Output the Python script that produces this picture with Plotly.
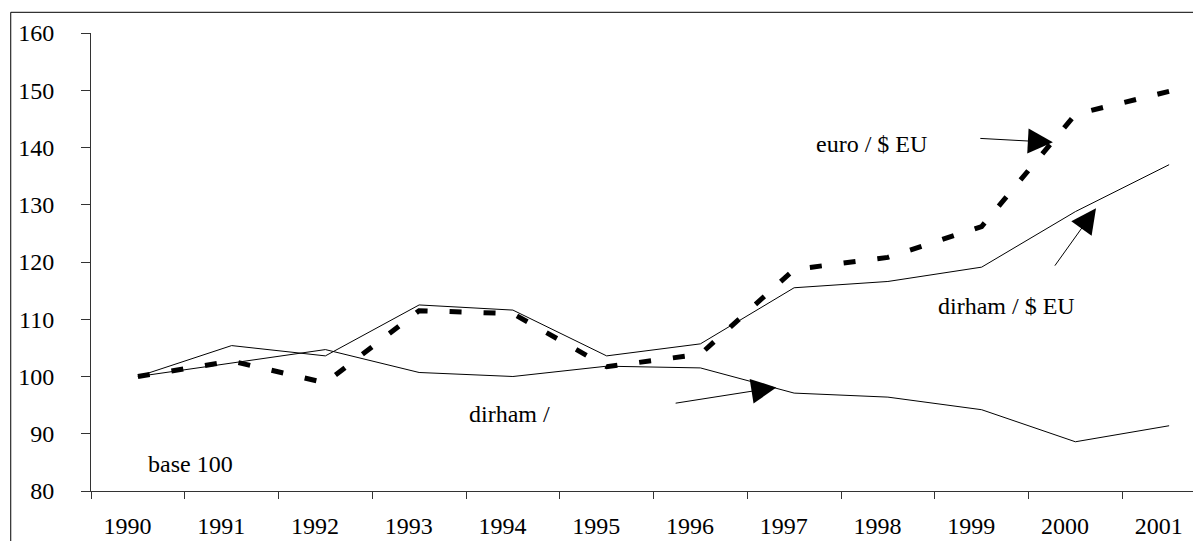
import plotly.graph_objects as go

YEARS = ["1990", "1991", "1992", "1993", "1994", "1995", "1996", "1997", "1998", "1999", "2000", "2001"]

EURO_USD = [100.0, 102.7, 98.9, 111.5, 111.0, 101.7, 103.9, 118.7, 120.8, 126.2, 145.8, 149.8]
DIRHAM_USD = [100.0, 105.4, 103.6, 112.5, 111.6, 103.6, 105.7, 115.5, 116.6, 119.1, 128.8, 137.0]
DIRHAM_EURO = [100.0, 102.3, 104.7, 100.7, 100.0, 101.8, 101.5, 97.1, 96.4, 94.2, 88.6, 91.4]

Y_TICKS = [80, 90, 100, 110, 120, 130, 140, 150, 160]

FONT = "Liberation Serif, Times New Roman, serif"
FONT_SIZE = 24
INK = "#000000"
AXIS_COLOR = "#333333"

x_pos = list(range(len(YEARS)))

fig = go.Figure()

fig.add_trace(
    go.Scatter(x=x_pos, y=DIRHAM_EURO, mode="lines", name="dirham / euro", line=dict(color=INK, width=1))
)
fig.add_trace(
    go.Scatter(x=x_pos, y=DIRHAM_USD, mode="lines", name="dirham / $ EU", line=dict(color=INK, width=1))
)
fig.add_trace(
    go.Scatter(
        x=x_pos,
        y=EURO_USD,
        mode="lines",
        name="euro / $ EU",
        line=dict(color=INK, width=5, dash="12px,22px"),
    )
)

# text labels
labels = [
    ("euro / $ EU", 7.82, 140.6),
    ("dirham / $ EU", 9.27, 112.4),
    ("dirham /", 3.96, 93.4),
    ("base 100", 0.56, 84.8),
]
for text, x, y in labels:
    fig.add_annotation(x=x, y=y, text=text, showarrow=False, font=dict(family=FONT, size=FONT_SIZE, color=INK))

# pointer arrows (tip, tail)
arrows = [
    ((9.76, 140.9), (8.97, 141.6)),
    ((10.22, 129.4), (9.77, 119.1)),
    ((6.81, 98.1), (5.72, 95.3)),
]
for (tx, ty), (ax, ay) in arrows:
    fig.add_annotation(
        x=tx,
        y=ty,
        ax=ax,
        ay=ay,
        axref="x",
        ayref="y",
        text="",
        showarrow=True,
        arrowhead=2,
        arrowsize=5,
        arrowwidth=1,
        arrowcolor=INK,
    )

# outer frame of the chart
fig.add_shape(
    type="rect",
    xref="paper",
    yref="paper",
    x0=-0.0723,
    x1=1.02,
    y0=-0.12,
    y1=1.0452,
    line=dict(color=INK, width=1),
    fillcolor="rgba(0,0,0,0)",
    layer="below",
)

# page body has an 8px margin, so the figure is a bit smaller than the window
fig.update_layout(
    width=1193,
    height=533,
    margin=dict(l=83, r=0, t=25, b=50),
    paper_bgcolor="white",
    plot_bgcolor="white",
    showlegend=False,
    font=dict(family=FONT, size=FONT_SIZE, color=INK),
    xaxis=dict(
        range=[-0.5, 11.34],
        tickmode="array",
        tickvals=[i - 0.11 for i in x_pos],
        ticktext=YEARS,
        ticks="",
        showgrid=False,
        zeroline=False,
        showline=True,
        linecolor=AXIS_COLOR,
        linewidth=1,
        ticklabelstandoff=13,
        tickfont=dict(family=FONT, size=FONT_SIZE, color=INK),
        minor=dict(
            tickmode="array",
            tickvals=[i - 0.5 for i in range(len(YEARS) + 1)],
            ticks="outside",
            ticklen=7,
            tickcolor=AXIS_COLOR,
            tickwidth=1,
            showgrid=False,
        ),
    ),
    yaxis=dict(
        range=[80, 160],
        tickmode="array",
        tickvals=Y_TICKS,
        ticks="outside",
        ticklen=9,
        tickcolor=AXIS_COLOR,
        showgrid=False,
        zeroline=False,
        showline=True,
        linecolor=AXIS_COLOR,
        linewidth=1,
        ticklabelstandoff=22,
        tickfont=dict(family=FONT, size=FONT_SIZE, color=INK),
    ),
)

fig.write_html("out.html")
